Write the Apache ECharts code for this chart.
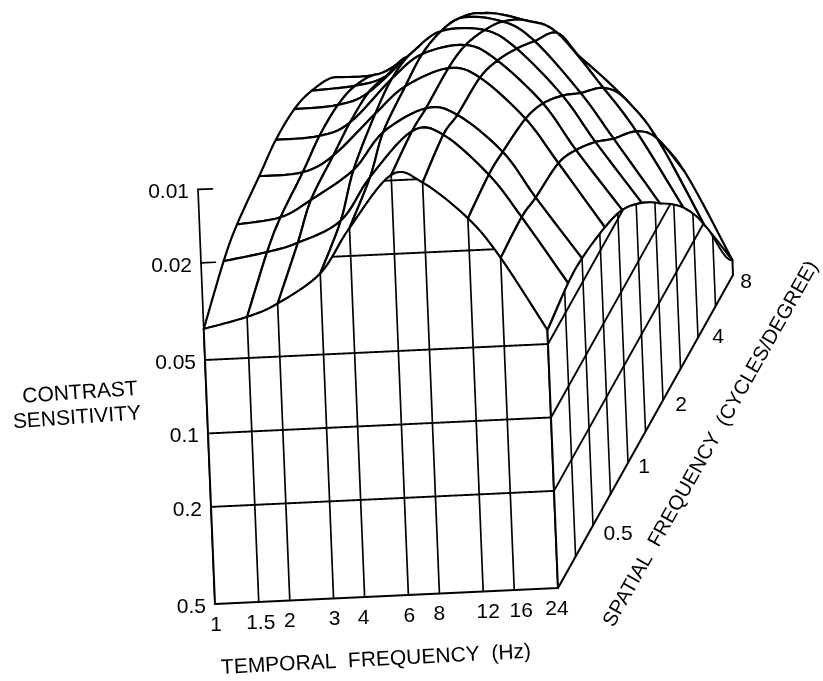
<!DOCTYPE html>
<html>
<head>
<meta charset="utf-8">
<style>
  html, body { margin: 0; padding: 0; background: #fff; }
  #main { width: 823px; height: 681px; }
</style>
<script src="https://cdn.jsdelivr.net/npm/echarts@6/dist/echarts.min.js"></script>
</head>
<body>
<div id="main"></div>
<script>
// temporal frequency (Hz), one surface line each
var temporal = [1, 1.5, 2, 3, 4, 6, 8, 12, 16, 24];
// spatial frequency (c/deg) of the surface lines, back edge is 8
var surfaceSpatial = [0.25, 0.38, 0.5, 0.78, 1.09, 1.57, 2.2, 3.36, 4.9, 8];
// spatial frequency of the lines on the side wall
var wallSpatial = [0.25, 0.354, 0.5, 0.707, 1, 1.414, 2, 2.83, 4, 5.66, 8];
// contrast levels ruled on the walls
var frontLevels = [0.01, 0.02, 0.05, 0.1, 0.2];
var sideLevels = [0.05, 0.1, 0.2];

// log10 sensitivity (-log10 contrast), one row per temporal frequency,
// one column per surfaceSpatial entry.
var logSens1 = [1.428, 1.551, 1.600, 1.633, 1.658, 1.649, 1.600, 1.498, 1.321, 1.018];
var logSens1_5 = [1.469, 1.580, 1.621, 1.641, 1.666, 1.658, 1.612, 1.502, 1.321, 1.018];
var logSens2 = [1.518, 1.612, 1.686, 1.703, 1.715, 1.703, 1.645, 1.567, 1.342, 1.039];
var logSens3 = [1.633, 1.694, 1.801, 1.867, 1.887, 1.854, 1.764, 1.649, 1.444, 1.121];
var logSens4 = [1.813, 1.867, 1.949, 1.973, 1.981, 1.940, 1.867, 1.731, 1.526, 1.223];
var logSens6 = [2.022, 2.047, 2.039, 2.039, 2.010, 1.936, 1.846, 1.694, 1.506, 1.223];
var logSens8 = [1.985, 2.026, 2.006, 1.994, 1.940, 1.854, 1.760, 1.637, 1.403, 1.100];
var logSens12 = [1.830, 1.854, 1.846, 1.817, 1.756, 1.653, 1.539, 1.403, 1.223, 0.895];
var logSens16 = [1.662, 1.674, 1.653, 1.629, 1.559, 1.457, 1.346, 1.219, 1.051, 0.731];
var logSens24 = [1.358, 1.395, 1.395, 1.358, 1.305, 1.199, 1.071, 0.899, 0.686, 0.362];
var logSens = [logSens1, logSens1_5, logSens2, logSens3, logSens4, logSens6, logSens8, logSens12, logSens16, logSens24];

var contrastLabels = ['0.01', '0.02', '0.05', '0.1', '0.2', '0.5'];
var temporalLabels = ['1', '1.5', '2', '3', '4', '6', '8', '12', '16', '24'];
var spatialLabels = ['0.5', '1', '2', '4', '8'];

// oblique projection of the box onto the page
var FLOOR_C = 0.5;
var FLOOR_LS = -Math.log10(FLOOR_C);
function tPos(t) { return Math.log10(t) / Math.log10(24); }
function sPos(s) { return Math.log2(s / 0.25) / 5; }
function project(tp, sp, ls) {
    var z = ls - FLOOR_LS;
    return [215 + 343 * tp + 175 * sp - 10 * z, 604 - 16 * tp - 313 * sp - 244 * z];
}
function vertex(i, j) {
    return project(tPos(temporal[i]), sPos(surfaceSpatial[j]), logSens[i][j]);
}

// catmull-rom through a list of numbers or points, for the drawn curves only
function cr(a, b, c, d, u) {
    return 0.5 * (2 * b + (c - a) * u + (2 * a - 5 * b + 4 * c - d) * u * u + (3 * b - a - 3 * c + d) * u * u * u);
}
function crAt(list, f) {
    var n = list.length - 1;
    var i = Math.min(Math.floor(f), n - 1);
    var u = f - i;
    var a = list[Math.max(i - 1, 0)], b = list[i], c = list[i + 1], d = list[Math.min(i + 2, n)];
    if (typeof b === 'number') return cr(a, b, c, d, u);
    return [cr(a[0], b[0], c[0], d[0], u), cr(a[1], b[1], c[1], d[1], u)];
}
function rowPts(j) { return temporal.map(function (t, i) { return vertex(i, j); }); }
function colPts(i) { return surfaceSpatial.map(function (s, j) { return vertex(i, j); }); }
function segment(list, from, to) {
    var out = [], steps = 8;
    for (var k = 0; k <= steps; k++) out.push(crAt(list, from + (to - from) * k / steps));
    return out;
}

var lastT = temporal.length - 1;
var frontLS = logSens.map(function (r) { return r[0]; });
var frontTp = temporal.map(tPos);
var sideLS = logSens[lastT];
var sideSp = surfaceSpatial.map(sPos);

function px(api, pts) { return pts.map(function (p) { return api.coord(p); }); }
function lineEl(api, pts, w) {
    return { type: 'polyline', shape: { points: px(api, pts) }, style: { fill: 'none', stroke: '#000', lineWidth: w, lineJoin: 'round', lineCap: 'round' } };
}

// far corner first so nearer cells cover what they hide
var cellData = [];
for (var j = surfaceSpatial.length - 2; j >= 0; j--) {
    for (var i = 0; i < lastT; i++) cellData.push([i, j]);
}
function renderCell(params, api) {
    var i = api.value(0), j = api.value(1);
    var pts = []
        .concat(segment(rowPts(j), i, i + 1))
        .concat(segment(colPts(i + 1), j, j + 1))
        .concat(segment(rowPts(j + 1), i + 1, i))
        .concat(segment(colPts(i), j + 1, j));
    return {
        type: 'polygon',
        shape: { points: px(api, pts) },
        style: { fill: '#fff', stroke: '#000', lineWidth: 2.2, lineJoin: 'round' }
    };
}

function renderFront(params, api) {
    var kids = [];
    var outline = [project(0, 0, FLOOR_LS)];
    for (var f = 0; f <= lastT + 0.0001; f += 0.05) {
        var ff = Math.min(f, lastT);
        outline.push(project(crAt(frontTp, ff), 0, crAt(frontLS, ff)));
    }
    outline.push(project(1, 0, FLOOR_LS));
    kids.push({
        type: 'polygon', shape: { points: px(api, outline) },
        style: { fill: '#fff', stroke: '#000', lineWidth: 2, lineJoin: 'round' }
    });
    temporal.forEach(function (t, i) {
        if (i === 0 || i === lastT) return;
        kids.push(lineEl(api, [project(frontTp[i], 0, FLOOR_LS), project(frontTp[i], 0, frontLS[i])], 1.7));
    });
    frontLevels.forEach(function (c) {
        var ls = -Math.log10(c), run = [];
        function flush() {
            if (run.length > 1) kids.push(lineEl(api, run, 1.9));
            run = [];
        }
        for (var f = 0; f <= lastT + 0.0001; f += 0.02) {
            var ff = Math.min(f, lastT);
            if (crAt(frontLS, ff) >= ls) run.push(project(crAt(frontTp, ff), 0, ls));
            else flush();
        }
        flush();
    });
    return { type: 'group', children: kids };
}

function sideTop(sp) {
    for (var k = 0; k < sideSp.length - 1; k++) {
        if (sp <= sideSp[k + 1]) return crAt(sideLS, k + (sp - sideSp[k]) / (sideSp[k + 1] - sideSp[k]));
    }
    return sideLS[sideLS.length - 1];
}
function renderSide(params, api) {
    var kids = [];
    var outline = [project(1, 0, FLOOR_LS), project(1, 1, FLOOR_LS)];
    for (var sp = 1; sp >= -0.0001; sp -= 0.01) {
        var v = Math.max(sp, 0);
        outline.push(project(1, v, sideTop(v)));
    }
    kids.push({
        type: 'polygon', shape: { points: px(api, outline) },
        style: { fill: '#fff', stroke: '#000', lineWidth: 2, lineJoin: 'round' }
    });
    wallSpatial.forEach(function (s, k) {
        if (k === 0 || k === wallSpatial.length - 1) return;
        var v = sPos(s);
        kids.push(lineEl(api, [project(1, v, FLOOR_LS), project(1, v, sideTop(v))], 1.6));
    });
    sideLevels.forEach(function (c) {
        var ls = -Math.log10(c), end = 0;
        for (var sp = 0; sp <= 1; sp += 0.002) {
            if (sideTop(sp) < ls) break;
            end = sp;
        }
        kids.push(lineEl(api, [project(1, 0, ls), project(1, end, ls)], 1.9));
    });
    return { type: 'group', children: kids };
}

function renderAxis(params, api) {
    var top = -Math.log10(0.01);
    return {
        type: 'group', children: [
            lineEl(api, [project(0, 0, FLOOR_LS), project(0, 0, top)], 1.7),
            lineEl(api, [project(0, 0, top), project(0.042, 0, top)], 1.7),
            lineEl(api, [project(0, 0, -Math.log10(0.02)), project(0.042, 0, -Math.log10(0.02))], 1.7)
        ]
    };
}

// labels: [x, y, text, align, rotation degrees, font size]
var labelFont = '"Liberation Sans", sans-serif';
var labelData = [];
// small hand offsets so the tick labels sit where the plotter put them
var temporalNudge = [1, 2, 0, 1, -1, 1, 0, 5, 7, -1];
var spatialNudge = [[25, 9], [16, 4], [18, 5], [20, 0], [13, 7]];
contrastLabels.forEach(function (text) {
    var p = project(0, 0, -Math.log10(+text));
    labelData.push([p[0] - 9, p[1] + 3, text, 'right', 0, 21]);
});
temporalLabels.forEach(function (text, i) {
    var p = project(frontTp[i], 0, FLOOR_LS);
    labelData.push([p[0] + temporalNudge[i], p[1] + 21, text, 'center', 0, 21]);
});
spatialLabels.forEach(function (text, i) {
    var p = project(1, sPos(+text), FLOOR_LS);
    labelData.push([p[0] + spatialNudge[i][0], p[1] + spatialNudge[i][1], text, 'center', 0, 21]);
});
labelData.push([80, 393, 'CONTRAST', 'center', 4, 21]);
labelData.push([77, 418, 'SENSITIVITY', 'center', 4, 21]);
labelData.push([376, 660, 'TEMPORAL  FREQUENCY  (Hz)', 'center', 3, 21]);
labelData.push([711, 444, 'SPATIAL  FREQUENCY  (CYCLES/DEGREE)', 'center', 60.5, 20.3]);

function renderLabel(params, api) {
    var p = api.coord([api.value(0), api.value(1)]);
    var item = labelData[params.dataIndex];
    return {
        type: 'text', x: p[0], y: p[1], rotation: item[4] * Math.PI / 180,
        style: {
            text: item[2], x: 0, y: 0, fill: '#000', align: item[3], verticalAlign: 'middle',
            font: item[5] + 'px ' + labelFont
        }
    };
}

function custom(render, data, z) {
    return { type: 'custom', renderItem: render, data: data, z: z, clip: false, silent: true, animation: false };
}

var chart = echarts.init(document.getElementById('main'), null, { renderer: 'canvas' });
chart.setOption({
    animation: false,
    backgroundColor: '#fff',
    grid: { left: 0, right: 0, top: 0, bottom: 0 },
    xAxis: { type: 'value', min: 0, max: 823, show: false },
    yAxis: { type: 'value', min: 0, max: 681, inverse: true, show: false },
    series: [
        custom(renderAxis, [[0, 0]], 1),
        custom(renderCell, cellData, 2),
        custom(renderFront, [[0, 0]], 3),
        custom(renderSide, [[0, 0]], 4),
        custom(renderLabel, labelData.map(function (d) { return [d[0], d[1]]; }), 5)
    ]
});
</script>
</body>
</html>
